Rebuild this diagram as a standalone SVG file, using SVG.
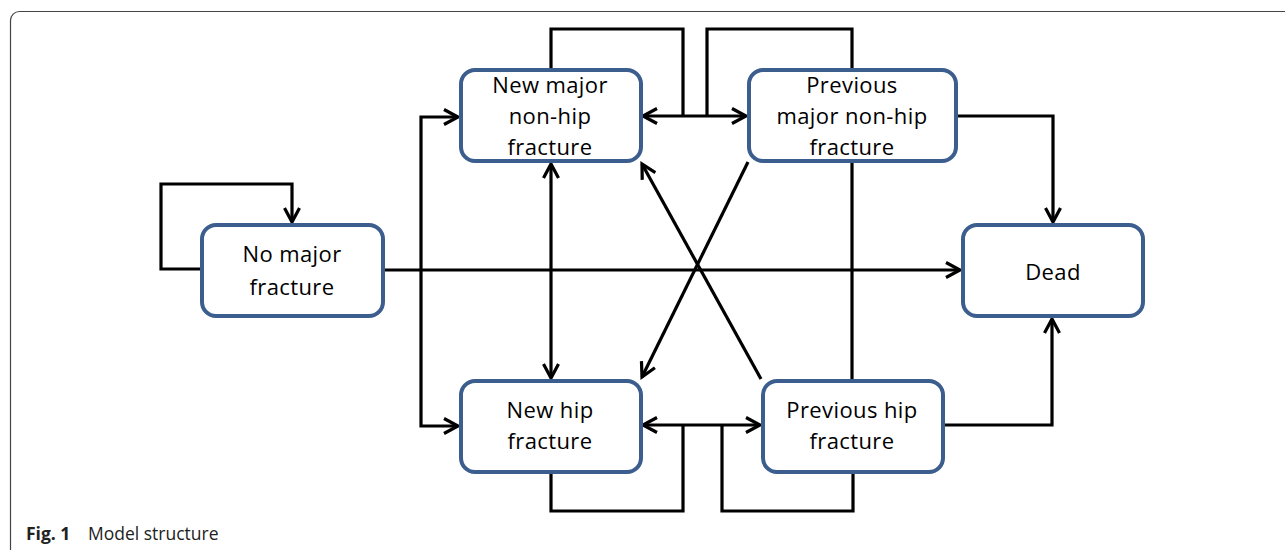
<svg xmlns="http://www.w3.org/2000/svg" width="1285" height="550" viewBox="0 0 1285 550">
<style>
.frame{fill:none;stroke:#444;stroke-width:1.2}
.box{fill:#fff;stroke:#3c5e8e;stroke-width:4}
.lbl{font-family:"Open Sans","Liberation Sans",sans-serif;font-size:22px;letter-spacing:0.4px;fill:#000;text-anchor:middle}
.c{fill:none;stroke:#000;stroke-width:3.2;stroke-linejoin:miter}
.a{marker-end:url(#ah)}
.b{marker-start:url(#ah);marker-end:url(#ah)}
.cap{font-family:"Open Sans","Liberation Sans",sans-serif;font-size:17.5px;fill:#222}
</style>
<defs>
<marker id="ah" markerUnits="userSpaceOnUse" markerWidth="30" markerHeight="30" refX="0" refY="0" viewBox="-20 -15 30 30" orient="auto-start-reverse" overflow="visible">
<path d="M-14,-7.5 L0,0 L-14,7.5" fill="none" stroke="#000" stroke-width="3.2"/>
</marker>
</defs>
<rect class="frame" x="10.5" y="11.5" width="1300" height="570" rx="9"/>
<g id="connectors">
<path class="c a" d="M201,269 H161 V184 H292 V222"/>
<path class="c a" d="M384,270 H960"/>
<path class="c a" d="M421,270 V117 H458"/>
<path class="c a" d="M421,270 V426 H458"/>
<path class="c b" d="M643,116 H746"/>
<path class="c" d="M551,69 V29 H683 V116"/>
<path class="c" d="M707,116 V29 H852 V69"/>
<path class="c b" d="M551,164 V378"/>
<path class="c a" d="M957,116 H1053 V222"/>
<path class="c a" d="M943,425 H1052 V319"/>
<path class="c" d="M852,162 V380"/>
<path class="c a" d="M748,162 L642,377"/>
<path class="c a" d="M761,379 L642,164"/>
<path class="c b" d="M643,425 H760"/>
<path class="c" d="M551,473 V511 H683 V425"/>
<path class="c" d="M722,425 V511 H853 V473"/>
</g>
<g id="n-newmajor">
<rect class="box" x="461" y="70" width="180" height="91" rx="14"/>
<text class="lbl" x="550" y="93">New major</text>
<text class="lbl" x="550" y="124">non-hip</text>
<text class="lbl" x="550" y="155">fracture</text>
</g>
<g id="n-prevmajor">
<rect class="box" x="749" y="70" width="207" height="91" rx="14"/>
<text class="lbl" x="852" y="93">Previous</text>
<text class="lbl" x="852" y="124">major non-hip</text>
<text class="lbl" x="852" y="155">fracture</text>
</g>
<g id="n-nomajor">
<rect class="box" x="202" y="225" width="181" height="91" rx="14"/>
<text class="lbl" x="292" y="262">No major</text>
<text class="lbl" x="292" y="295">fracture</text>
</g>
<g id="n-dead">
<rect class="box" x="963" y="225" width="180" height="91" rx="14"/>
<text class="lbl" x="1053" y="280">Dead</text>
</g>
<g id="n-newhip">
<rect class="box" x="461" y="381" width="180" height="91" rx="14"/>
<text class="lbl" x="550" y="418">New hip</text>
<text class="lbl" x="550" y="449">fracture</text>
</g>
<g id="n-prevhip">
<rect class="box" x="763" y="381" width="180" height="91" rx="14"/>
<text class="lbl" x="852" y="418">Previous hip</text>
<text class="lbl" x="852" y="449">fracture</text>
</g>
<g id="caption">
<text class="cap" x="26" y="540"><tspan font-weight="bold">Fig. 1</tspan><tspan x="88">Model structure</tspan></text>
</g>
</svg>
